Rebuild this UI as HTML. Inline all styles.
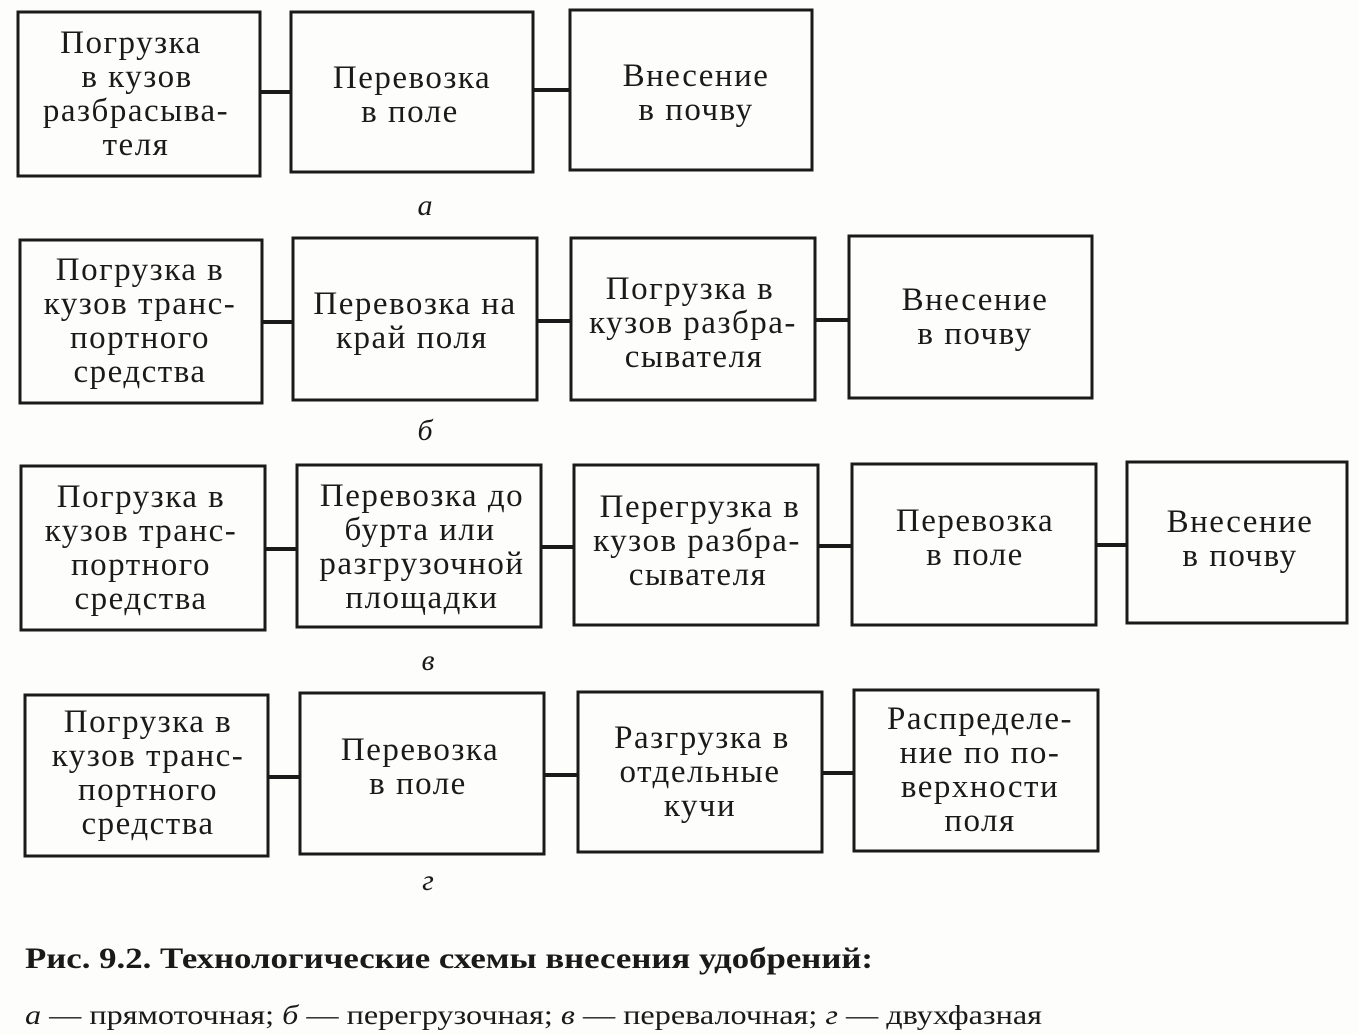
<!DOCTYPE html>
<html><head><meta charset="utf-8"><style>
html,body{margin:0;padding:0;background:#fdfdfb;}
svg{display:block}
text{font-family:"Liberation Serif",serif;fill:#1a1a1a}
.b{fill:none;stroke:#1a1a1a;stroke-width:3}
.c{stroke:#1a1a1a;stroke-width:4}
.t{font-size:33px;text-anchor:middle;letter-spacing:1.5px}
.l{font-size:30px;font-style:italic;text-anchor:middle}
</style></head><body>
<svg width="1359" height="1035" viewBox="0 0 1359 1035" xmlns="http://www.w3.org/2000/svg">
<!-- row a -->
<rect class="b" x="18" y="12" width="242" height="164"/>
<rect class="b" x="291" y="12" width="242" height="160"/>
<rect class="b" x="570" y="10" width="242" height="160"/>
<line class="c" x1="260" y1="92" x2="291" y2="92"/>
<line class="c" x1="533" y1="90" x2="570" y2="90"/>
<text class="t" x="131"><tspan x="131" y="53">Погрузка</tspan><tspan x="137" y="87">в кузов</tspan><tspan x="136" y="121">разбрасыва-</tspan><tspan x="136" y="155">теля</tspan></text>
<text class="t"><tspan x="412" y="88">Перевозка</tspan><tspan x="410" y="122">в поле</tspan></text>
<text class="t"><tspan x="696" y="86">Внесение</tspan><tspan x="696" y="120">в почву</tspan></text>
<text class="l" x="425" y="215">а</text>
<!-- row б -->
<rect class="b" x="20" y="240" width="242" height="163"/>
<rect class="b" x="293" y="238" width="244" height="162"/>
<rect class="b" x="571" y="238" width="244" height="162"/>
<rect class="b" x="849" y="236" width="243" height="162"/>
<line class="c" x1="262" y1="322" x2="293" y2="322"/>
<line class="c" x1="537" y1="321" x2="571" y2="321"/>
<line class="c" x1="815" y1="320" x2="849" y2="320"/>
<text class="t"><tspan x="140" y="280">Погрузка в</tspan><tspan x="140" y="314">кузов транс-</tspan><tspan x="140" y="348">портного</tspan><tspan x="140" y="382">средства</tspan></text>
<text class="t"><tspan x="415" y="314">Перевозка на</tspan><tspan x="412" y="348">край поля</tspan></text>
<text class="t"><tspan x="690" y="299">Погрузка в</tspan><tspan x="693" y="333">кузов разбра-</tspan><tspan x="694" y="367">сывателя</tspan></text>
<text class="t"><tspan x="975" y="310">Внесение</tspan><tspan x="975" y="344">в почву</tspan></text>
<text class="l" x="425" y="440">б</text>
<!-- row в -->
<rect class="b" x="21" y="466" width="244" height="164"/>
<rect class="b" x="297" y="465" width="244" height="162"/>
<rect class="b" x="574" y="465" width="244" height="160"/>
<rect class="b" x="852" y="464" width="244" height="161"/>
<rect class="b" x="1127" y="462" width="220" height="161"/>
<line class="c" x1="265" y1="549" x2="297" y2="549"/>
<line class="c" x1="541" y1="547" x2="574" y2="547"/>
<line class="c" x1="818" y1="546" x2="852" y2="546"/>
<line class="c" x1="1096" y1="545" x2="1127" y2="545"/>
<text class="t"><tspan x="141" y="507">Погрузка в</tspan><tspan x="141" y="541">кузов транс-</tspan><tspan x="141" y="575">портного</tspan><tspan x="141" y="609">средства</tspan></text>
<text class="t"><tspan x="422" y="506">Перевозка до</tspan><tspan x="420" y="540">бурта или</tspan><tspan x="422" y="574">разгрузочной</tspan><tspan x="422" y="608">площадки</tspan></text>
<text class="t"><tspan x="700" y="517">Перегрузка в</tspan><tspan x="697" y="551">кузов разбра-</tspan><tspan x="698" y="585">сывателя</tspan></text>
<text class="t"><tspan x="975" y="531">Перевозка</tspan><tspan x="975" y="565">в поле</tspan></text>
<text class="t"><tspan x="1240" y="532">Внесение</tspan><tspan x="1240" y="566">в почву</tspan></text>
<text class="l" x="428" y="670">в</text>
<!-- row г -->
<rect class="b" x="25" y="695" width="243" height="161"/>
<rect class="b" x="300" y="693" width="244" height="161"/>
<rect class="b" x="578" y="692" width="244" height="160"/>
<rect class="b" x="854" y="690" width="244" height="161"/>
<line class="c" x1="268" y1="777" x2="300" y2="777"/>
<line class="c" x1="544" y1="775" x2="578" y2="775"/>
<line class="c" x1="822" y1="773" x2="854" y2="773"/>
<text class="t"><tspan x="148" y="732">Погрузка в</tspan><tspan x="148" y="766">кузов транс-</tspan><tspan x="148" y="800">портного</tspan><tspan x="148" y="834">средства</tspan></text>
<text class="t"><tspan x="420" y="760">Перевозка</tspan><tspan x="418" y="794">в поле</tspan></text>
<text class="t"><tspan x="702" y="748">Разгрузка в</tspan><tspan x="700" y="782">отдельные</tspan><tspan x="700" y="816">кучи</tspan></text>
<text class="t"><tspan x="980" y="729">Распределе-</tspan><tspan x="980" y="763">ние по по-</tspan><tspan x="980" y="797">верхности</tspan><tspan x="980" y="831">поля</tspan></text>
<text class="l" x="428" y="890">г</text>
<!-- caption -->
<text x="25" y="968" font-size="30" font-weight="bold" textLength="848" lengthAdjust="spacingAndGlyphs">Рис. 9.2. Технологические схемы внесения удобрений:</text>
<text x="25" y="1024" font-size="27" textLength="1017" lengthAdjust="spacingAndGlyphs"><tspan font-style="italic">а</tspan> — прямоточная; <tspan font-style="italic">б</tspan> — перегрузочная; <tspan font-style="italic">в</tspan> — перевалочная; <tspan font-style="italic">г</tspan> — двухфазная</text>
</svg>
</body></html>
